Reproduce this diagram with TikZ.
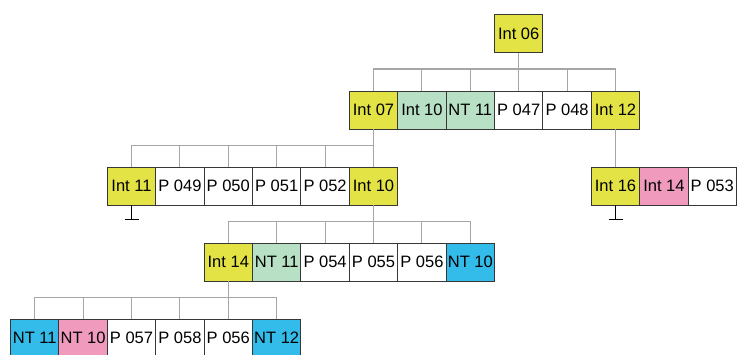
\documentclass[tikz,border=0pt]{standalone}
\usepackage{fontspec}
\setmainfont{Liberation Sans}
\definecolor{cyel}{RGB}{227,227,70}
\definecolor{cgrn}{RGB}{184,224,196}
\definecolor{cpnk}{RGB}{240,154,190}
\definecolor{cblu}{RGB}{51,187,234}
\definecolor{bordergray}{RGB}{55,55,55}
\definecolor{linegray}{RGB}{166,166,166}
\begin{document}
\begin{tikzpicture}[x=1pt,y=-1pt,
  cell/.style={draw=bordergray, line width=0.9pt, minimum width=48.4pt, minimum height=38pt,
    inner sep=0pt, font=\fontsize{16.5}{18}\selectfont, text=black},
  yel/.style={cell, fill=cyel},
  grn/.style={cell, fill=cgrn},
  pnk/.style={cell, fill=cpnk},
  blu/.style={cell, fill=cblu},
  wht/.style={cell, fill=white},
  conn/.style={draw=linegray, line width=1.1pt},
  gnd/.style={draw=black, line width=0.8pt}]
\clip (0,0) rectangle (742,354);
\fill[white] (0,0) rectangle (742,354);
% row 1
\node[yel] (a) at (518.7,33.5) {Int 06};
% row 2
\node[yel] (b1) at (373.5,110) {Int 07};
\node[grn] (b2) at (421.9,110) {Int 10};
\node[grn] (b3) at (470.3,110) {NT 11};
\node[wht] (b4) at (518.7,110) {P 047};
\node[wht] (b5) at (567.1,110) {P 048};
\node[yel] (b6) at (615.5,110) {Int 12};
% row 3 left
\node[yel] (c1) at (131.5,186) {Int 11};
\node[wht] (c2) at (179.9,186) {P 049};
\node[wht] (c3) at (228.3,186) {P 050};
\node[wht] (c4) at (276.7,186) {P 051};
\node[wht] (c5) at (325.1,186) {P 052};
\node[yel] (c6) at (373.5,186) {Int 10};
% row 3 right
\node[yel] (r1) at (615.5,186) {Int 16};
\node[pnk] (r2) at (663.9,186) {Int 14};
\node[wht] (r3) at (712.3,186) {P 053};
% row 4
\node[yel] (d1) at (228.3,262) {Int 14};
\node[grn] (d2) at (276.7,262) {NT 11};
\node[wht] (d3) at (325.1,262) {P 054};
\node[wht] (d4) at (373.5,262) {P 055};
\node[wht] (d5) at (421.9,262) {P 056};
\node[blu] (d6) at (470.3,262) {NT 10};
% row 5
\node[blu] (e1) at (34.7,338) {NT 11};
\node[pnk] (e2) at (83.1,338) {NT 10};
\node[wht] (e3) at (131.5,338) {P 057};
\node[wht] (e4) at (179.9,338) {P 058};
\node[wht] (e5) at (228.3,338) {P 056};
\node[blu] (e6) at (276.7,338) {NT 12};
% connectors
\foreach \c in {b1,b2,b3,b4,b5,b6} \draw[conn] (a.south) -- ++(0,16) -| (\c.north);
\foreach \c in {c1,c2,c3,c4,c5,c6} \draw[conn] (b1.south) -- ++(0,16) -| (\c.north);
\foreach \c in {d1,d2,d3,d4,d5,d6} \draw[conn] (c6.south) -- ++(0,16) -| (\c.north);
\foreach \c in {e1,e2,e3,e4,e5,e6} \draw[conn] (d1.south) -- ++(0,16) -| (\c.north);
\draw[conn] (b6.south) -- (r1.north);
% terminators
\draw[gnd] (c1.south) -- ++(0,14) ++(-7,0) -- ++(14,0);
\draw[gnd] (r1.south) -- ++(0,14) ++(-7,0) -- ++(14,0);
\end{tikzpicture}
\end{document}
